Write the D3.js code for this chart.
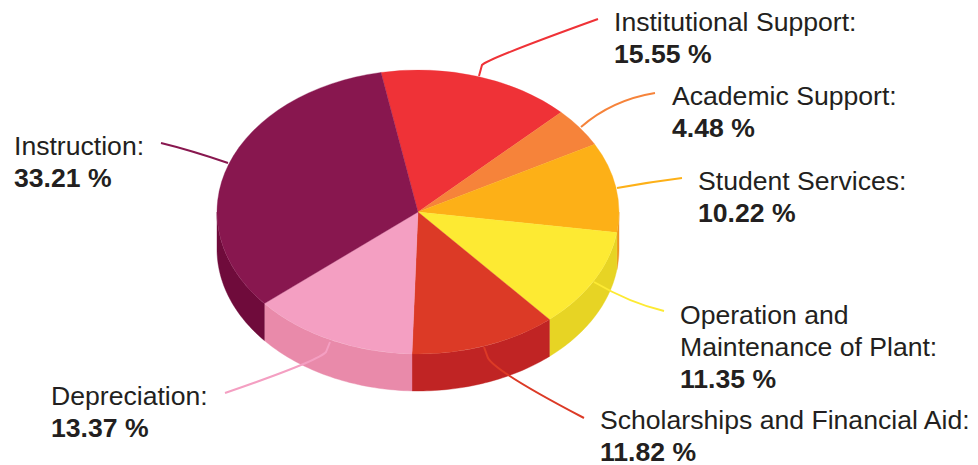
<!DOCTYPE html>
<html><head><meta charset="utf-8">
<script src="https://cdn.jsdelivr.net/npm/d3@7"></script>
<style>html,body{margin:0;padding:0;background:#fff}svg{display:block}
text{font-family:"Liberation Sans",Arial,sans-serif;font-size:26.6px;fill:#231f20}
.v{font-weight:700}</style></head><body>
<script>
const categories = ["Institutional Support","Academic Support","Student Services","Operation and Maintenance of Plant","Scholarships and Financial Aid","Depreciation","Instruction"];
const values = [15.55,4.48,10.22,11.35,11.82,13.37,33.21];
const topColors = ["#ef3237","#f6833a","#fdb017","#fdea33","#dc3a26","#f49fc2","#88174f"];
const sideColors = ["#c9282d","#d06a28","#ee9420","#e7d424","#c02424","#e98aaa","#6f0b3b"];
const labelLines = [["Institutional Support:"],["Academic Support:"],["Student Services:"],["Operation and","Maintenance of Plant:"],["Scholarships and Financial Aid:"],["Depreciation:"],["Instruction:"]];
const labelX = [614,672,698,680,600,51,14];
const labelY = [31,105,190,324,429,405,155];
// leader: start, kink, curve control, end
const leaders = [
  [[479,76],[482,65],[487,59],[598,19]],
  [[581,127],[581,127],[612,100],[655,93]],
  [[617,188],[617,188],[650,182],[682,178]],
  [[594,282],[594,282],[630,303],[664,311]],
  [[484,347],[488,358],[496,372],[584,418]],
  [[330,342],[326,352],[318,361],[225,393]],
  [[228,163],[228,163],[190,150],[161,143]]
];

const W=978,H=465,cx=418,cy=212,rx=201,ry=142,depth=37;
const svg=d3.select("body").append("svg").attr("width",W).attr("height",H).attr("viewBox",[0,0,W,H]);
const startAngle=-10.6*Math.PI/180;
const arcs=d3.pie().sort(null).startAngle(startAngle).endAngle(startAngle+2*Math.PI)(values);
const pt=a=>[cx+rx*Math.sin(a),cy-ry*Math.cos(a)];

// side walls (only the part of the rim facing the viewer: 90deg..270deg)
const lo=Math.PI/2,hi=3*Math.PI/2;
const walls=svg.append("g");
arcs.forEach((s,i)=>{
  const a0=Math.max(s.startAngle,lo),a1=Math.min(s.endAngle,hi);
  if(a1<=a0) return;
  const n=40,top=d3.range(n+1).map(k=>pt(a0+(a1-a0)*k/n));
  const bot=top.map(p=>[p[0],p[1]+depth]).reverse();
  walls.append("path").attr("d",d3.line()(top.concat(bot))+"Z")
    .attr("fill",sideColors[i]).attr("stroke",sideColors[i]).attr("stroke-width",.4);
});
// top face
const arc=d3.arc().innerRadius(0).outerRadius(rx);
svg.append("g").attr("transform",`translate(${cx},${cy}) scale(1,${ry/rx})`)
  .selectAll("path").data(arcs).join("path").attr("d",arc)
  .attr("fill",(d,i)=>topColors[i]).attr("stroke",(d,i)=>topColors[i]).attr("stroke-width",.4);

// leaders
svg.append("g").selectAll("path").data(leaders).join("path")
  .attr("d",l=>{const p=d3.path();
    p.moveTo(l[0][0],l[0][1]);
    p.lineTo(l[1][0],l[1][1]);
    p.quadraticCurveTo(l[2][0],l[2][1],l[3][0],l[3][1]);
    return p.toString();})
  .attr("fill","none").attr("stroke",(d,i)=>topColors[i]).attr("stroke-width",2);

// labels
const lh=32;
categories.forEach((c,i)=>{
  const t=svg.append("text").attr("x",labelX[i]).attr("y",labelY[i]);
  labelLines[i].forEach((ln,k)=>t.append("tspan").attr("x",labelX[i]).attr("y",labelY[i]+k*lh).text(ln));
  t.append("tspan").attr("class","v").attr("x",labelX[i]).attr("y",labelY[i]+labelLines[i].length*lh).text(values[i].toFixed(2)+" %");
});
</script></body></html>
